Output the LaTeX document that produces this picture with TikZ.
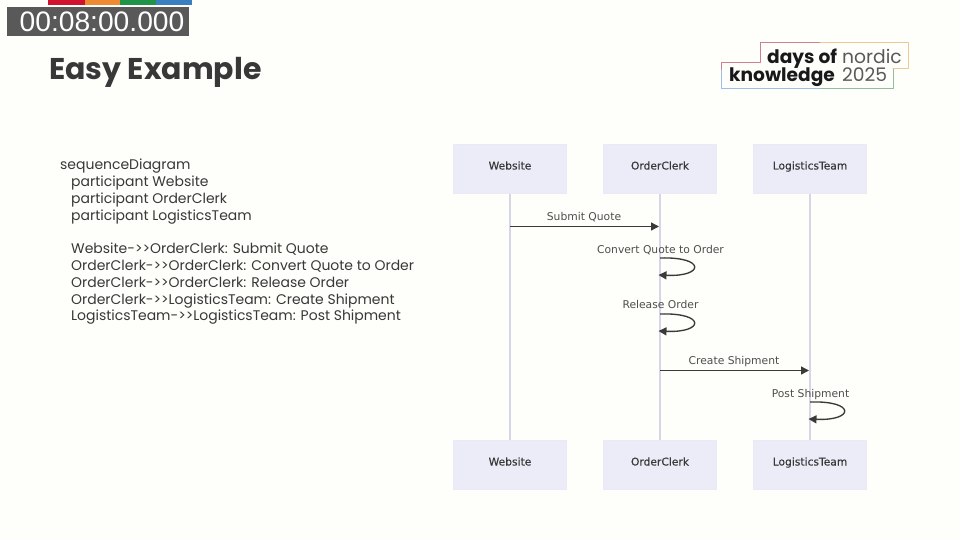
\documentclass[tikz,border=0pt]{standalone}
\usepackage{fontspec}
\setmainfont{Poppins}
\newfontfamily\diag{DejaVu Sans}
\newfontfamily\diagb[FakeBold=0.35]{DejaVu Sans}
\newfontfamily\timerfont{Liberation Sans}
\usetikzlibrary{arrows.meta}
\definecolor{bgc}{HTML}{FEFEFB}
\definecolor{ink}{HTML}{383838}
\definecolor{actorfill}{HTML}{ECECF9}
\definecolor{lifec}{HTML}{D6D7E6}
\definecolor{msgc}{HTML}{3A3A3A}
\definecolor{stripeR}{HTML}{D0122F}
\definecolor{stripeO}{HTML}{EE8A32}
\definecolor{stripeG}{HTML}{1F9347}
\definecolor{stripeB}{HTML}{3A7FBF}
\definecolor{timerbg}{HTML}{595959}
\definecolor{lgR}{HTML}{D07F8F}
\definecolor{lgO}{HTML}{EFC898}
\definecolor{lgG}{HTML}{8FBE9B}
\definecolor{lgB}{HTML}{9DBFE4}
\tikzset{
  actor/.style={draw=actorfill!92!lifec,line width=.6pt,fill=actorfill,minimum width=113pt,minimum height=49pt,inner sep=0pt,text depth=0pt},
  actorlabel/.style={inner sep=0pt,anchor=base,font=\diagb\fontsize{10.7}{13}\selectfont,text=ink},
  life/.style={draw=lifec,line width=1.3pt},
  msg/.style={draw=msgc,line width=1.35pt,-{Triangle[length=8pt,width=8pt]}},
  msglabel/.style={font=\diag\fontsize{10.75}{13}\selectfont,text=msgc!90!white,inner sep=0pt,anchor=base},
  code/.style={anchor=base west,inner sep=0pt,text=ink,font=\fontsize{13.96}{16}\selectfont},
  lg/.style={line width=1pt,line cap=round,line join=round},
  logobold/.style={anchor=base west,inner sep=0pt,text=black!90,font=\fontsize{18.6}{22}\selectfont\bfseries},
  logolight/.style={anchor=base west,inner sep=0pt,text=black!65,font=\fontsize{18.7}{22}\selectfont},
}
\begin{document}
\begin{tikzpicture}[x=1pt,y=-1pt]
\useasboundingbox (0,0) rectangle (960,540);
\fill[bgc] (0,0) rectangle (960,540);
% top stripe
\fill[stripeR] (48,0) rectangle (84.5,5);
\fill[stripeO] (84.5,0) rectangle (120,5);
\fill[stripeG] (120,0) rectangle (156,5);
\fill[stripeB] (156,0) rectangle (192,5);
% timer
\node[fill=timerbg,minimum width=182pt,minimum height=29pt,inner sep=0pt] (timer) at (98,21.5) {};
\node[text=white,inner sep=0pt,font=\timerfont\fontsize{28.2}{30}\selectfont] (timertext) at (102,21.5) {00:08:00.000};
% title
\node[anchor=base west,inner sep=0pt,text=ink,font=\fontsize{30}{34}\bfseries\selectfont] (title) at (49,80) {Easy Example};
% logo outline
\draw[lg,lgR] (721,70) -- (721,63) -- (760,63) -- (760,43) -- (820,43);
\draw[lg,lgO] (820,43) -- (908,43) -- (908,69) -- (893,69);
\draw[lg,lgG] (893,69) -- (893,89) -- (820,89);
\draw[lg,lgB] (820,89) -- (721,89) -- (721,70);
\node[logobold] (lga) at (767,64) {days of};
\node[logolight] (lgb) at (842,64) {nordic};
\node[logobold] (lgc) at (729,82) {knowledge};
\node[logolight] (lgd) at (842,82) {2025};
% code
\node[code] (c1) at (60,169.5) {sequenceDiagram};
\node[code] (c2) at (71,186) {participant Website};
\node[code] (c3) at (71,203) {participant OrderClerk};
\node[code] (c4) at (71,220) {participant LogisticsTeam};
\node[code] (c5) at (71,253) {Website->{}>OrderClerk: Submit Quote};
\node[code] (c6) at (71,270) {OrderClerk->{}>OrderClerk: Convert Quote to Order};
\node[code] (c7) at (71,287) {OrderClerk->{}>OrderClerk: Release Order};
\node[code] (c8) at (71,304) {OrderClerk->{}>LogisticsTeam: Create Shipment};
\node[code] (c9) at (71,320) {LogisticsTeam->{}>LogisticsTeam: Post Shipment};
% actors
\node[actor] (wt) at (510,169) {};
\node[actor] (ot) at (660,169) {};
\node[actor] (lt) at (810,169) {};
\node[actor] (wb) at (510,465) {};
\node[actor] (ob) at (660,465) {};
\node[actor] (lb) at (810,465) {};
\node[actorlabel] (wtl) at (510,169.5) {Website};
\node[actorlabel] (otl) at (660,169.5) {OrderClerk};
\node[actorlabel] (ltl) at (810,169.5) {LogisticsTeam};
\node[actorlabel] (wbl) at (510,465.5) {Website};
\node[actorlabel] (obl) at (660,465.5) {OrderClerk};
\node[actorlabel] (lbl) at (810,465.5) {LogisticsTeam};
\draw[life] (wt) -- (wb);
\draw[life] (ot) -- (ob);
\draw[life] (lt) -- (lb);
% messages
\coordinate (m1a) at (510,226.5);
\coordinate (m1b) at (659,226.5);
\coordinate (m2a) at (660,258);
\coordinate (m2b) at (658.5,275);
\coordinate (m3a) at (660,314);
\coordinate (m3b) at (658.5,331);
\coordinate (m4a) at (660,370.5);
\coordinate (m4b) at (809,370.5);
\coordinate (m5a) at (810,402);
\coordinate (m5b) at (808.5,419);
\draw[msg] (m1a) -- (m1b);
\draw[msg] (m2a) .. controls +(46,-1.5) and +(46,2) .. (m2b);
\draw[msg] (m3a) .. controls +(46,-1.5) and +(46,2) .. (m3b);
\draw[msg] (m4a) -- (m4b);
\draw[msg] (m5a) .. controls +(46,-1.5) and +(46,2) .. (m5b);
\node[msglabel] (l1) at (584,220) {Submit Quote};
\node[msglabel] (l2) at (660.5,253) {Convert Quote to Order};
\node[msglabel] (l3) at (660.5,308) {Release Order};
\node[msglabel] (l4) at (734,364) {Create Shipment};
\node[msglabel] (l5) at (810.5,397) {Post Shipment};
\end{tikzpicture}
\end{document}
